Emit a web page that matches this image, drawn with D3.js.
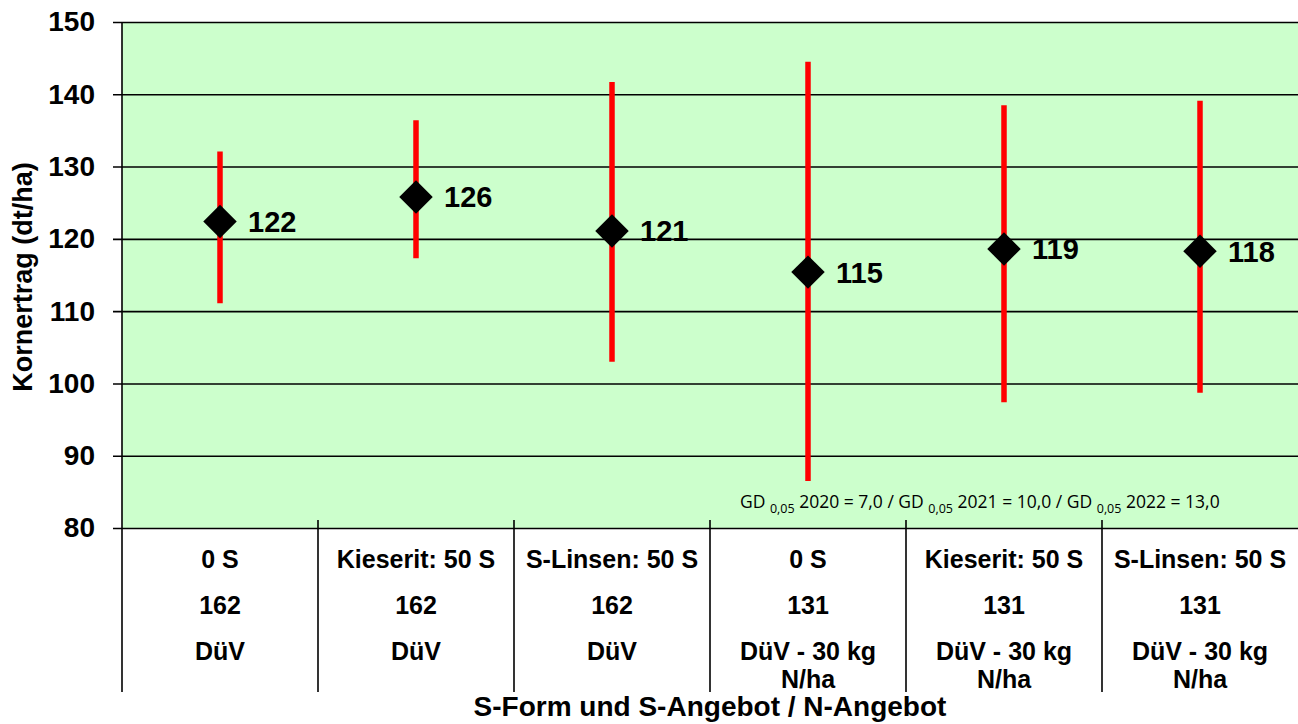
<!DOCTYPE html>
<html>
<head>
<meta charset="utf-8">
<script src="https://cdn.jsdelivr.net/npm/d3@7"></script>
<style>
  body { margin: 0; background: #fff; }
  svg { font-family: "Liberation Sans", Arial, sans-serif; }
</style>
</head>
<body>
<div id="chart"></div>
<script>
// categories (three label rows + value)
const sForm = ["0 S", "Kieserit: 50 S", "S-Linsen: 50 S", "0 S", "Kieserit: 50 S", "S-Linsen: 50 S"];
const nAmount = ["162", "162", "162", "131", "131", "131"];
const nLevel = [["DüV"], ["DüV"], ["DüV"], ["DüV - 30 kg", "N/ha"], ["DüV - 30 kg", "N/ha"], ["DüV - 30 kg", "N/ha"]];
const yieldMean = [122.4, 125.8, 121.1, 115.4, 118.6, 118.3];
const yieldLabel = ["122", "126", "121", "115", "119", "118"];
const rangeHigh = [132.1, 136.4, 141.7, 144.5, 138.5, 139.1];
const rangeLow = [111.1, 117.3, 103.0, 86.5, 97.4, 98.7];
const yTicks = [80, 90, 100, 110, 120, 130, 140, 150];

const width = 1298, height = 724;
const margin = { top: 22, right: 0, bottom: 196, left: 122 };

const svg = d3.select("#chart").append("svg")
    .attr("width", width)
    .attr("height", height);

const x = d3.scaleBand()
    .domain(d3.range(sForm.length))
    .range([margin.left, width - margin.right])
    .padding(0);

const y = d3.scaleLinear()
    .domain([80, 150])
    .range([height - margin.bottom, margin.top]);

// plot background
svg.append("rect")
    .attr("x", margin.left)
    .attr("y", y(150))
    .attr("width", width - margin.right - margin.left)
    .attr("height", y(80) - y(150))
    .attr("fill", "#ccffcc");

// gridlines + y axis
const yAxis = svg.append("g")
    .attr("transform", `translate(${margin.left},0)`)
    .call(d3.axisLeft(y).tickValues(yTicks)
        .tickSizeInner(-(width - margin.right - margin.left)));
yAxis.select(".domain").remove();
yAxis.selectAll(".tick line")
    .attr("x1", -9)
    .attr("stroke", "#000")
    .attr("stroke-width", 1.6);
yAxis.selectAll(".tick text")
    .attr("x", -27)
    .attr("font-size", 28)
    .attr("font-weight", "bold")
    .attr("fill", "#000")
    .attr("font-family", "Liberation Sans, Arial, sans-serif");

// left axis line
svg.append("line")
    .attr("x1", margin.left).attr("x2", margin.left)
    .attr("y1", y(150)).attr("y2", 692)
    .attr("stroke", "#000").attr("stroke-width", 1.6);

// category separators
const seps = d3.range(sForm.length).map(i => x(i)).slice(1);
svg.selectAll("line.sep")
    .data(seps)
    .join("line")
    .attr("class", "sep")
    .attr("x1", d => d).attr("x2", d => d)
    .attr("y1", y(80) - 8).attr("y2", 692)
    .attr("stroke", "#000").attr("stroke-width", 1.6);

// error bars
svg.selectAll("line.err")
    .data(yieldMean)
    .join("line")
    .attr("class", "err")
    .attr("x1", (d, i) => x(i) + x.bandwidth() / 2)
    .attr("x2", (d, i) => x(i) + x.bandwidth() / 2)
    .attr("y1", (d, i) => y(rangeHigh[i]))
    .attr("y2", (d, i) => y(rangeLow[i]))
    .attr("stroke", "#ff0000")
    .attr("stroke-width", 5.5);

// diamonds
svg.selectAll("path.pt")
    .data(yieldMean)
    .join("path")
    .attr("class", "pt")
    .attr("d", d3.symbol(d3.symbolSquare, 560))
    .attr("transform", (d, i) => `translate(${x(i) + x.bandwidth() / 2},${y(d)}) rotate(45)`)
    .attr("fill", "#000");

// value labels
svg.selectAll("text.val")
    .data(yieldMean)
    .join("text")
    .attr("class", "val")
    .attr("x", (d, i) => x(i) + x.bandwidth() / 2 + 28)
    .attr("y", (d, i) => y(d))
    .attr("dy", "0.36em")
    .attr("font-size", 29)
    .attr("font-weight", "bold")
    .text((d, i) => yieldLabel[i]);

// category labels
const catG = svg.selectAll("g.cat")
    .data(sForm)
    .join("g")
    .attr("class", "cat")
    .attr("transform", (d, i) => `translate(${x(i) + x.bandwidth() / 2},0)`)
    .attr("text-anchor", "middle")
    .attr("font-size", 25)
    .attr("font-weight", "bold");
catG.append("text").attr("y", 568).text(d => d);
catG.append("text").attr("y", 614).text((d, i) => nAmount[i]);
catG.each(function (d, i) {
    d3.select(this).selectAll("text.lvl")
        .data(nLevel[i])
        .join("text")
        .attr("class", "lvl")
        .attr("y", (t, j) => 660 + j * 28)
        .text(t => t);
});

// GD annotation
const gd = svg.append("text")
    .attr("x", 740)
    .attr("y", 508)
    .attr("font-size", 17.5)
    .attr("font-family", "Open Sans, Liberation Sans, sans-serif");
const gdParts = [["GD ", false], ["0,05", true], [" 2020 = 7,0 / GD ", false], ["0,05", true],
    [" 2021 = 10,0 / GD ", false], ["0,05", true], [" 2022 = 13,0", false]];
gdParts.forEach(([t, sub]) => {
    gd.append("tspan")
        .attr("font-size", sub ? 12.5 : 17.5)
        .attr("dy", sub ? 5 : (t.startsWith(" 20") ? -5 : 0))
        .text(t);
});

// axis titles
svg.append("text")
    .attr("transform", `translate(32,${(y(80) + y(150)) / 2 + 2}) rotate(-90)`)
    .attr("text-anchor", "middle")
    .attr("font-size", 27)
    .attr("font-weight", "bold")
    .text("Kornertrag (dt/ha)");

svg.append("text")
    .attr("x", 710)
    .attr("y", 716)
    .attr("text-anchor", "middle")
    .attr("font-size", 28)
    .attr("font-weight", "bold")
    .text("S-Form und S-Angebot / N-Angebot");
</script>
</body>
</html>
